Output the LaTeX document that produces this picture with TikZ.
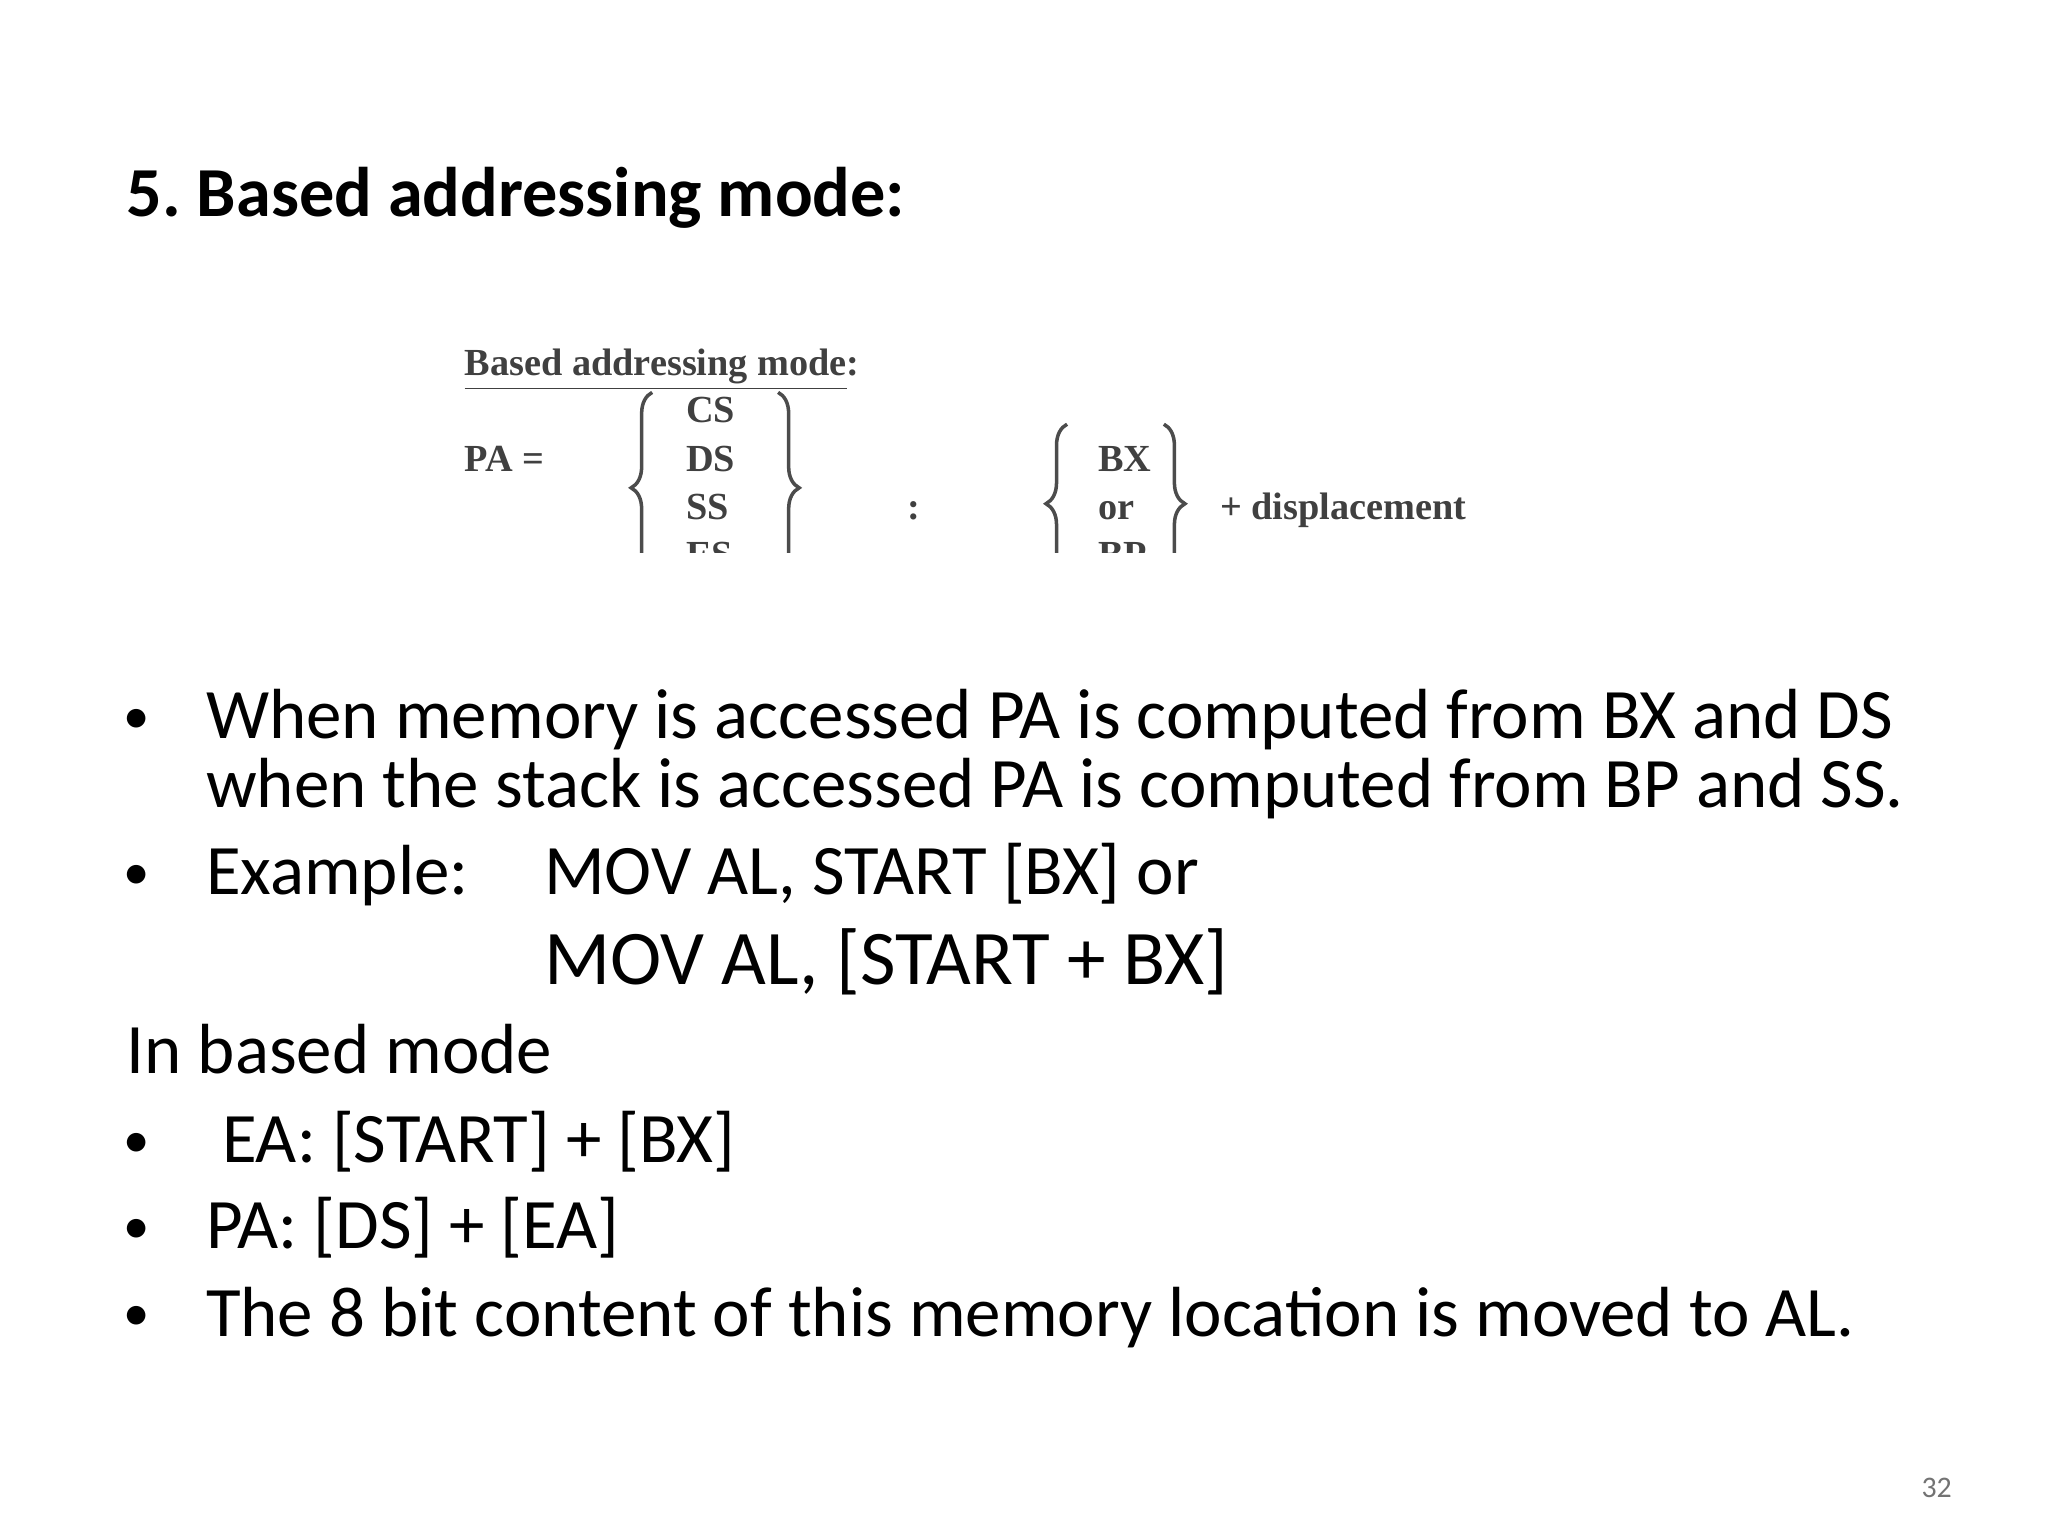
\documentclass[tikz,border=0pt]{standalone}
\usepackage{fontspec}
\setmainfont{Carlito}
\newfontfamily\scanfont{Liberation Serif}
\usetikzlibrary{decorations.pathreplacing}
\frenchspacing
\begin{document}
\begin{tikzpicture}[x=0.013256cm,y=-0.013256cm,
	line/.style={anchor=base west,inner sep=0pt,font=\fontsize{20.2}{24}\selectfont},
	dot/.style={anchor=base,inner sep=0pt,font=\fontsize{15}{18}\selectfont},
	scan/.style={anchor=base west,inner sep=0pt,text=black!75,font=\scanfont\bfseries\fontsize{10.9}{13}\selectfont},
	curly/.style={draw=black!70,line width=1pt,decorate,decoration={brace,amplitude=6pt}}]
	\useasboundingbox (0,0) rectangle (1545,1159);
	% title
	\node[line,font=\bfseries\fontsize{20}{24}\selectfont] (title) at (95,163) {5. Based addressing mode:};
	% scanned formula
	\node[scan] (head) at (350,283) {\underline{Based addressing mode}:};
	\begin{scope}
		\clip (300,250) rectangle (1200,417);
		\node[scan] (pa) at (350,356) {PA =};
		\node[scan] (cs) at (517,319) {CS};
		\node[scan] (ds) at (517,356) {DS};
		\node[scan] (ss) at (517,392) {SS};
		\node[scan] (es) at (517,428) {ES};
		\node[scan] (colon) at (684,392) {:};
		\node[scan] (bx) at (828,356) {BX};
		\node[scan] (or) at (828,392) {or};
		\node[scan] (bp) at (828,428) {BP};
		\node[scan] (disp) at (920,392) {+ displacement};
		\draw[curly] (492,440) -- (492,296);
		\draw[curly] (587,296) -- (587,440);
		\draw[curly] (805,440) -- (805,320);
		\draw[curly] (878,320) -- (878,440);
	\end{scope}
	% bullets
	\node[dot] (b1) at (103,553) {•};
	\node[line] (t1) at (155,557) {When memory is accessed PA is computed from BX and DS};
	\node[line] (t1b) at (155,609) {when the stack is accessed PA is computed from BP and SS.};
	\node[dot] (b2) at (103,671) {•};
	\node[line] (t2) at (155,675) {Example:};
	\node[line] (t2b) at (410,675) {MOV AL, START [BX] or};
	\node[line,font=\fontsize{22}{26}\selectfont] (t2c) at (410,743) {MOV AL, [START + BX]};
	\node[line] (t3) at (95,810) {In based mode};
	\node[dot] (b4) at (103,873) {•};
	\node[line] (t4) at (167,877) {EA: [START] + [BX]};
	\node[dot] (b5) at (103,938) {•};
	\node[line] (t5) at (155,942) {PA: [DS] + [EA]};
	\node[dot] (b6) at (103,1004) {•};
	\node[line] (t6) at (155,1008) {The 8 bit content of this memory location is moved to AL.};
	\node[anchor=base,inner sep=0pt,text=black!55,font=\fontsize{8.5}{10}\selectfont] (page) at (1461,1130) {32};
\end{tikzpicture}
\end{document}
